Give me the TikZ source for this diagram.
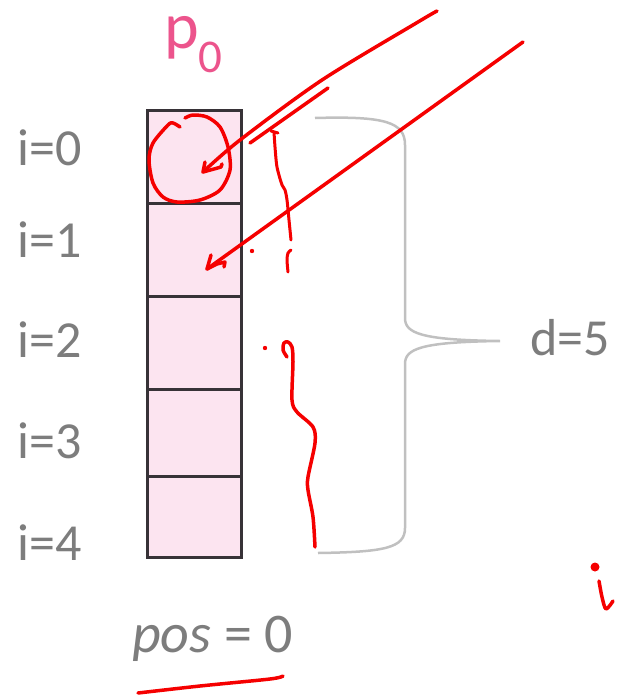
\documentclass[tikz,border=0pt]{standalone}
\usepackage{fontspec}
\setmainfont{Carlito}
\definecolor{txtgray}{RGB}{125,125,125}
\definecolor{pinkfill}{RGB}{252,228,240}
\definecolor{pinktxt}{RGB}{236,84,140}
\definecolor{bracegray}{RGB}{192,192,192}
\definecolor{cellborder}{RGB}{55,50,55}
\definecolor{pen}{RGB}{245,0,0}
\tikzset{
  cellbox/.style={draw=cellborder, fill=pinkfill, line width=3pt},
  idxlabel/.style={anchor=base west, inner sep=0pt, text=txtgray, font=\fontsize{52}{60}\selectfont},
  ink/.style={draw=pen, line width=3.5pt, line cap=round, line join=round},
  brace/.style={draw=bracegray, line width=2.5pt}
}
\begin{document}
\begin{tikzpicture}[x=1pt,y=-1pt]
\useasboundingbox (0,0) rectangle (621,696);
% cells
\draw[cellbox] (147,110) rectangle (241,203) coordinate (c0);
\draw[cellbox] (147,203) rectangle (241,296);
\draw[cellbox] (147,296) rectangle (241,389);
\draw[cellbox] (147,389) rectangle (241,476);
\draw[cellbox] (147,476) rectangle (241,557);
% p0
\node[anchor=base west, inner sep=0pt, text=pinktxt, font=\fontsize{66}{70}\selectfont] (p) at (164,48) {p};
\node[anchor=base west, inner sep=0pt, text=pinktxt, font=\fontsize{47}{50}\selectfont] (p0) at (198,72) {0};
% index labels
\node[idxlabel] (l0) at (17,165) {i=0};
\node[idxlabel] (l1) at (17,257) {i=1};
\node[idxlabel] (l2) at (17,357) {i=2};
\node[idxlabel] (l3) at (17,458) {i=3};
\node[idxlabel] (l4) at (17,560) {i=4};
\node[idxlabel] (d) at (530,355) {d=5};
\node[anchor=base west, inner sep=0pt, text=txtgray, font=\fontsize{56}{60}\selectfont] (pos) at (132,652) {\itshape pos\upshape\ = 0};
% brace
\draw[brace] (315,118) .. controls (385,116) and (405,122) .. (405,145) -- (405,318)
  .. controls (405,333) and (420,340) .. (500,341)
  .. controls (420,342) and (405,349) .. (405,364) -- (405,528)
  .. controls (405,548) and (385,552) .. (318,553);
% red annotations
\draw[ink] plot[smooth] coordinates {(437,11) (418,22) (322,80) (240,140) (203,172)};
\draw[ink] (205,162) -- (203,172) -- (214,169) -- (221,167) -- (222,164);
\draw[ink] (328,88) -- (250,143);
\draw[ink] plot[smooth] coordinates {(180,127) (173,123) (168,125) (153,143) (149,160) (153,183) (163,197) (177,202) (200,200) (220,190) (230,170) (228,147) (220,127) (207,117) (193,115) (185,118)};
\draw[ink] (523,42) -- (207,269);
\draw[ink] (211,255) -- (207,269) -- (217,264) -- (225,262) -- (224,267);
\draw[ink, line width=3pt] (271,131) -- (278,133);
\draw[ink, line width=3pt] plot[smooth] coordinates {(274,132) (275,147) (277,167) (282,185) (285,190) (287,200) (289,220) (291,240)};
\draw[ink, line width=3pt] plot[smooth] coordinates {(291,250) (288,253) (287,260) (288,272)};
\fill[pen] (252,251) circle (2.2);
\fill[pen] (265,348) circle (2.2);
\draw[ink] plot[smooth] coordinates {(287,357) (283,350) (284,343) (288,342) (292,347) (293,362) (292,400) (297,412) (313,427) (315,443) (308,477) (308,490) (313,517) (315,547)};
\fill[pen] (595,567) circle (4.5);
\draw[ink] plot[smooth] coordinates {(599,581) (602,597) (606,609) (613,601)};
\draw[ink] plot[smooth] coordinates {(138,693) (200,686) (270,679) (283,676)};
\end{tikzpicture}
\end{document}
